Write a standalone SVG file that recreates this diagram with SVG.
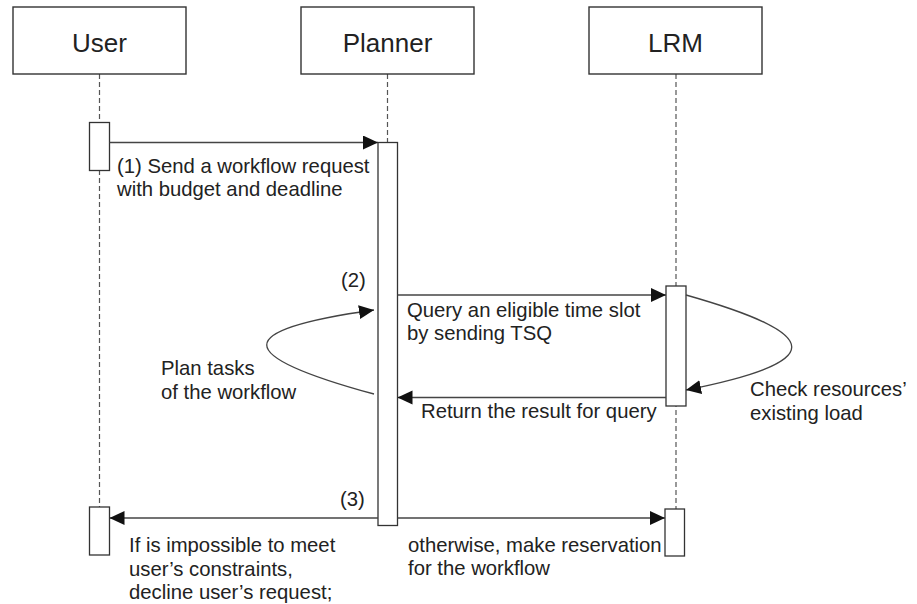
<svg xmlns="http://www.w3.org/2000/svg" width="917" height="604" viewBox="0 0 917 604">
<style>
.box{fill:#fff;stroke:#333;stroke-width:1.4}
.act{fill:#fff;stroke:#333;stroke-width:1.3}
.life{stroke:#555;stroke-width:1.2;stroke-dasharray:5 3;fill:none}
.title{font-family:"Liberation Sans",Arial,sans-serif;font-size:26px;fill:#222;text-anchor:middle}
.lbl{font-family:"Liberation Sans",Arial,sans-serif;font-size:20.3px;fill:#222}
.msg{stroke:#444;stroke-width:1.3;fill:none;marker-end:url(#ah)}
</style>
<defs>
<marker id="ah" markerUnits="userSpaceOnUse" markerWidth="16" markerHeight="15" refX="15" refY="7" orient="auto">
<path d="M0,0 L15,7 L0,14 z" fill="#111"/>
</marker>
</defs>
<rect width="917" height="604" fill="#fff"/>
<g id="user">
<line class="life" x1="99.5" y1="74" x2="99.5" y2="507"/>
<rect class="box" x="13" y="7" width="173" height="67"/>
<text class="title" x="99.5" y="52">User</text>
<rect class="act" x="89.5" y="122.5" width="20" height="48"/>
<rect class="act" x="89.5" y="507" width="20" height="48"/>
</g>
<g id="planner">
<line class="life" x1="387.5" y1="74" x2="387.5" y2="142"/>
<rect class="box" x="301" y="7" width="173" height="67"/>
<text class="title" x="387.5" y="52">Planner</text>
<rect class="act" x="378" y="142.5" width="19.5" height="383"/>
</g>
<g id="lrm">
<line class="life" x1="676" y1="74" x2="676" y2="509"/>
<rect class="box" x="589" y="7" width="173" height="67"/>
<text class="title" x="675.5" y="52">LRM</text>
<rect class="act" x="666" y="286" width="20" height="120"/>
<rect class="act" x="665" y="509" width="19.5" height="47"/>
</g>
<g id="connectors">
<line class="msg" x1="109.5" y1="142.5" x2="378" y2="142.5"/>
<line class="msg" x1="397.5" y1="295" x2="666" y2="295"/>
<line class="msg" x1="666" y1="397.5" x2="397.5" y2="397.5"/>
<line class="msg" x1="378" y1="518" x2="109.5" y2="518"/>
<line class="msg" x1="397.5" y1="518" x2="665" y2="518"/>
<path class="msg" d="M374,394 C231,355 231,330 374,310"/>
<path class="msg" d="M686,295 C827,335 827,362 686,390"/>
</g>
<g id="labels">
<text class="lbl" x="117" y="172.5">(1) Send a workflow request</text>
<text class="lbl" x="117" y="196">with budget and deadline</text>
<text class="lbl" x="341" y="287">(2)</text>
<text class="lbl" x="407" y="316.5">Query an eligible time slot</text>
<text class="lbl" x="407" y="340">by sending TSQ</text>
<text class="lbl" x="161" y="375">Plan tasks</text>
<text class="lbl" x="161" y="399">of the workflow</text>
<text class="lbl" x="421" y="418">Return the result for query</text>
<text class="lbl" x="750" y="396">Check resources’</text>
<text class="lbl" x="750" y="420">existing load</text>
<text class="lbl" x="340" y="506">(3)</text>
<text class="lbl" x="129" y="552">If is impossible to meet</text>
<text class="lbl" x="129" y="576">user’s constraints,</text>
<text class="lbl" x="129" y="599">decline user’s request;</text>
<text class="lbl" x="408" y="552">otherwise, make reservation</text>
<text class="lbl" x="408" y="575">for the workflow</text>
</g>
</svg>
